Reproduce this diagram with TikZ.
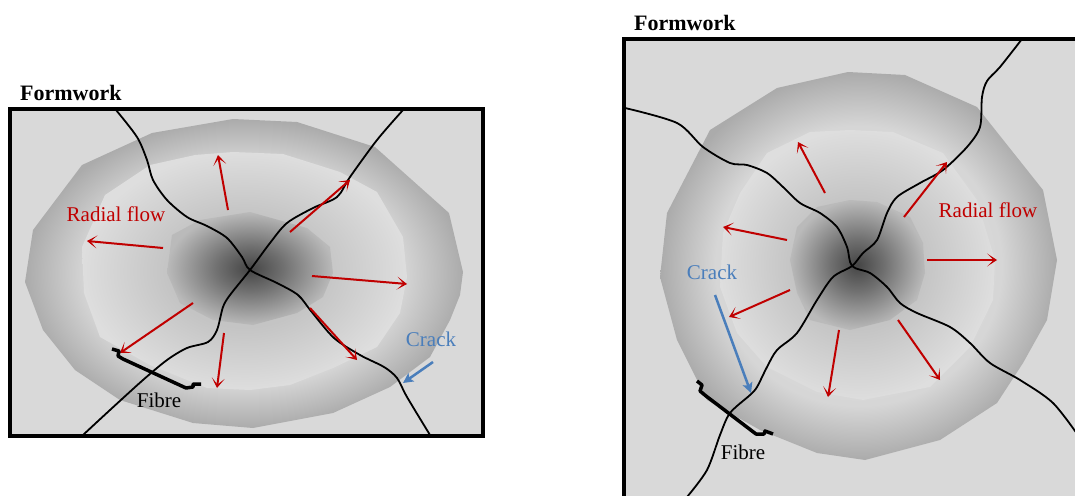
\documentclass[tikz,border=0pt]{standalone}
\usepackage{fontspec}
\setmainfont{Liberation Serif}
\usepackage{xcolor}
\definecolor{cFlow}{HTML}{C00000}
\definecolor{cCrack}{HTML}{4A7EBB}
\definecolor{cSlab}{HTML}{D9D9D9}
\usepackage{tikz}
\usetikzlibrary{positioning,arrows.meta}
% three grey zones of the blob: outer ring, middle ring, dark core
\pgfdeclareradialshading{blob-outer}{\pgfpoint{0bp}{0bp}}{%
  rgb(0bp)=(0.87,0.87,0.87);rgb(18bp)=(0.84,0.84,0.84);%
  rgb(25bp)=(0.67,0.67,0.67);rgb(50bp)=(0.67,0.67,0.67)}
\pgfdeclareradialshading{blob-mid}{\pgfpoint{0bp}{0bp}}{%
  rgb(0bp)=(0.75,0.75,0.75);rgb(12bp)=(0.77,0.77,0.77);%
  rgb(25bp)=(0.87,0.87,0.87);rgb(50bp)=(0.87,0.87,0.87)}
\pgfdeclareradialshading{blob-core}{\pgfpoint{0bp}{0bp}}{%
  rgb(0bp)=(0.27,0.27,0.27);rgb(10bp)=(0.44,0.44,0.44);%
  rgb(25bp)=(0.73,0.73,0.73);rgb(50bp)=(0.73,0.73,0.73)}
\tikzset{
  slab/.style={fill=cSlab},
  formwork/.style={draw=black,line width=4pt},
  crack-line/.style={draw=black,line width=1.8pt},
  fibre-line/.style={draw=black,line width=3.5pt,line join=round},
  flow-arrow/.style={-{Stealth[length=10pt,width=13pt,inset=6.5pt]},
    line width=2pt,draw=cFlow},
  crack-arrow/.style={-{Stealth[length=10pt,width=10pt,inset=2pt]},
    line width=2.5pt,draw=cCrack},
  txt/.style={inner sep=0pt,font=\fontsize{21pt}{24pt}\selectfont},
  form-label/.style={txt,font=\fontsize{22pt}{24pt}\selectfont\bfseries},
  flow-label/.style={txt,text=cFlow},
  crack-label/.style={txt,text=cCrack},
}

\begin{document}
\begin{tikzpicture}[x=1pt,y=-1pt]
  \useasboundingbox (0,0) rectangle (1075,495);

  % ---------- left formwork ----------
  \fill[slab] (10,109) rectangle (483,436);
  \shade[shading=blob-outer] (233,119) -- (297,122) -- (375,147) -- (449,213)
    -- (463,272) -- (460,295) -- (450,320) -- (430,357) -- (390,387)
    -- (333,413) -- (253,428) -- (193,423) -- (120,400) -- (75,370)
    -- (43,330) -- (25,282) -- (33,230) -- (82,165) -- (152,133) -- cycle;
  \shade[shading=blob-mid] (233,152) -- (283,154) -- (340,172) -- (377,192)
    -- (403,237) -- (407,277) -- (400,313) -- (377,347) -- (333,368)
    -- (290,385) -- (250,390) -- (207,388) -- (150,365) -- (100,337)
    -- (84,293) -- (82,247) -- (105,195) -- (150,165) -- (195,155) -- cycle;
  \shade[shading=blob-core] (250,212) -- (307,228) -- (330,247) -- (333,273)
    -- (323,297) -- (297,313) -- (253,325) -- (213,320) -- (180,303)
    -- (167,273) -- (172,235) -- (200,220) -- cycle;

  \draw[crack-line] plot[smooth,tension=0.5] coordinates {(116,110) (137,137)
    (147,160) (153,180) (167,200) (187,217) (207,226) (227,238) (242,257)
    (250,270) (277,283) (298,295) (311,311) (334,338) (360,355) (384,367)
    (397,378) (407,397) (430,435)};
  \draw[crack-line] plot[smooth,tension=0.5] coordinates {(403,110) (377,140)
    (350,177) (337,197) (313,208) (287,223) (270,243) (250,270) (230,295)
    (223,307) (217,330) (208,342) (187,348) (167,360) (143,380) (110,410)
    (83,435)};

  \draw[flow-arrow] (228,210) -- (218,155);
  \draw[flow-arrow] (163,248) -- (87,241);
  \draw[flow-arrow] (290,232) -- (350,180);
  \draw[flow-arrow] (312,276) -- (407,284);
  \draw[flow-arrow] (310,308) -- (357,360);
  \draw[flow-arrow] (224,333) -- (217,388);
  \draw[flow-arrow] (193,303) -- (120,353);

  \draw[fibre-line] (112,349) -- (119,351) -- (118,356) -- (123,359)
    -- (186,388) -- (193,387) -- (193,384) -- (201,384);

  \node[flow-label] (flowL) at (116,214) {Radial flow};
  \node[crack-label] (crackL) at (431,339) {Crack};
  \node[txt] (fibreL) at (159,400) {Fibre};
  \draw[crack-arrow] (433,362) -- (403,383);

  \draw[formwork] (10,109) rectangle (483,436);
  \coordinate (boxL) at (10,109);
  \node[form-label,above right=8pt and 10pt of boxL] (formL) {Formwork};

  % ---------- right formwork ----------
  \fill[slab] (624,39) rectangle (1095,515);
  \shade[shading=blob-outer] (848,72) -- (905,75) -- (977,107) -- (1043,190)
    -- (1057,260) -- (1047,320) -- (1023,363) -- (997,403) -- (940,440)
    -- (865,460) -- (817,453) -- (760,430) -- (707,400) -- (677,340)
    -- (660,277) -- (667,213) -- (710,130) -- (777,88) -- cycle;
  \shade[shading=blob-mid] (850,130) -- (893,132) -- (943,153) -- (977,200)
    -- (995,260) -- (993,300) -- (970,347) -- (930,387) -- (863,400)
    -- (817,392) -- (767,367) -- (737,333) -- (720,287) -- (723,233)
    -- (740,193) -- (767,153) -- (810,132) -- cycle;
  \shade[shading=blob-core] (850,200) -- (877,202) -- (910,217) -- (923,243)
    -- (925,273) -- (917,300) -- (890,320) -- (850,330) -- (810,320)
    -- (797,293) -- (790,260) -- (797,227) -- (817,207) -- cycle;

  \draw[crack-line] plot[smooth,tension=0.5] coordinates {(625,108) (677,123)
    (703,147) (730,163) (747,165) (767,173) (783,187) (800,203) (820,213)
    (837,227) (847,247) (852,266) (870,273) (887,287) (900,303) (917,313)
    (950,327) (970,343) (990,363) (1020,380) (1053,403) (1080,438)};
  \draw[crack-line] plot[smooth,tension=0.5] coordinates {(1022,39) (1000,67)
    (987,81) (982,97) (980,127) (967,147) (943,170) (920,183) (897,197)
    (887,213) (877,240) (863,253) (852,266) (833,277) (817,300) (797,333)
    (777,350) (767,367) (757,387) (750,395) (730,413) (720,435) (707,470)
    (687,497)};

  \draw[flow-arrow] (825,193) -- (798,142);
  \draw[flow-arrow] (787,240) -- (723,227);
  \draw[flow-arrow] (904,217) -- (947,162);
  \draw[flow-arrow] (927,260) -- (997,260);
  \draw[flow-arrow] (790,290) -- (729,317);
  \draw[flow-arrow] (839,330) -- (828,397);
  \draw[flow-arrow] (898,320) -- (940,380);

  \draw[fibre-line] (697,381) -- (702,385) -- (700,391) -- (706,396)
    -- (756,434) -- (764,434) -- (765,431) -- (773,434);

  \node[flow-label] (flowR) at (988,210) {Radial flow};
  \node[crack-label] (crackR) at (712,272) {Crack};
  \node[txt] (fibreR) at (743,452) {Fibre};
  \draw[crack-arrow] (715,295) -- (751,393);

  \draw[formwork] (624,39) rectangle (1095,515);
  \coordinate (boxR) at (624,39);
  \node[form-label,above right=8pt and 10pt of boxR] (formR) {Formwork};
\end{tikzpicture}
\end{document}
